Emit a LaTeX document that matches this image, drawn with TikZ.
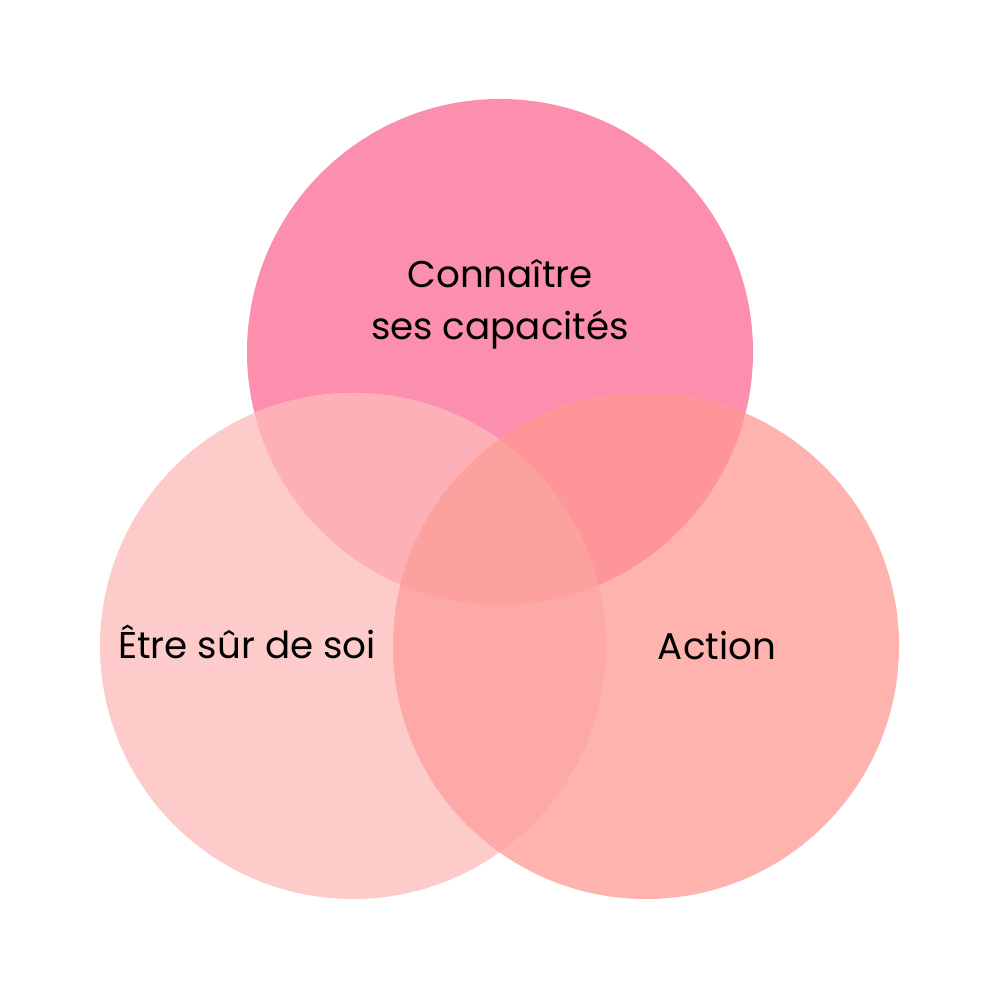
\documentclass[tikz,border=0pt]{standalone}
\usepackage{fontspec}
\setmainfont{Poppins}
\definecolor{topcol}{HTML}{FD8FAE}
\definecolor{leftcol}{HTML}{FECBCB}
\definecolor{rightcol}{HTML}{FEB3AE}
\definecolor{topleftcol}{HTML}{FDB0B8}
\definecolor{toprightcol}{HTML}{FE9598}
\definecolor{leftrightcol}{HTML}{FDA9A7}
\definecolor{middlecol}{HTML}{FDA19F}
\tikzset{
  label/.style={font=\fontsize{10.6}{14.8}\selectfont, align=center, text=black}
}
\begin{document}
\begin{tikzpicture}
  \useasboundingbox (0,0) rectangle (10,10);
  \fill[white] (0,0) rectangle (10,10);
  % circles
  \def\rad{2.53}
  \coordinate (ctop) at (5.00,6.48);
  \coordinate (cleft) at (3.53,3.54);
  \coordinate (cright) at (6.46,3.54);
  \fill[topcol] (ctop) circle (\rad);
  \fill[leftcol] (cleft) circle (\rad);
  \fill[rightcol] (cright) circle (\rad);
  % overlaps
  \begin{scope}
    \clip (ctop) circle (\rad);
    \fill[topleftcol] (cleft) circle (\rad);
  \end{scope}
  \begin{scope}
    \clip (ctop) circle (\rad);
    \fill[toprightcol] (cright) circle (\rad);
  \end{scope}
  \begin{scope}
    \clip (cleft) circle (\rad);
    \fill[leftrightcol] (cright) circle (\rad);
  \end{scope}
  \begin{scope}
    \clip (ctop) circle (\rad);
    \clip (cleft) circle (\rad);
    \fill[middlecol] (cright) circle (\rad);
  \end{scope}
  % labels
  \node[label] (know) at (5.00,6.96) {Connaître\\ses capacités};
  \node[label] (sure) at (2.47,3.58) {Être sûr de soi};
  \node[label] (act) at (7.17,3.54) {Action};
\end{tikzpicture}
\end{document}
